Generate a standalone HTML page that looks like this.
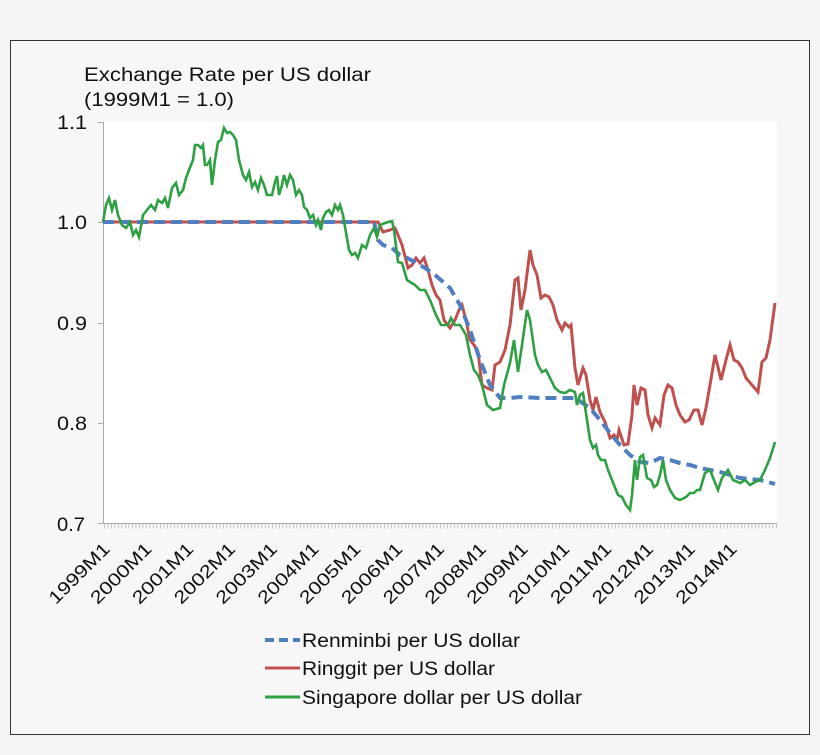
<!DOCTYPE html>
<html><head><meta charset="utf-8"><style>
body{margin:0;background:#f4f4f4;width:820px;height:750px;overflow:hidden}
</style></head><body>
<svg width="820" height="750" xmlns="http://www.w3.org/2000/svg" font-family="Liberation Sans, Arial, sans-serif">
<rect x="0" y="0" width="820" height="750" fill="#f4f4f4"/>
<rect x="10.5" y="40.5" width="799" height="694" fill="#f7f7f7" stroke="#333" stroke-width="1"/>
<rect x="104" y="122" width="673" height="401" fill="#fff"/>
<text x="84" y="81" font-size="19" fill="#111" textLength="287" lengthAdjust="spacingAndGlyphs">Exchange Rate per US dollar</text>
<text x="84" y="106" font-size="19" fill="#111" textLength="150" lengthAdjust="spacingAndGlyphs">(1999M1 = 1.0)</text>
<g font-size="19" fill="#111">
<text x="57" y="129" textLength="30" lengthAdjust="spacingAndGlyphs">1.1</text>
<text x="57" y="229" textLength="30" lengthAdjust="spacingAndGlyphs">1.0</text>
<text x="57" y="330" textLength="30" lengthAdjust="spacingAndGlyphs">0.9</text>
<text x="57" y="430" textLength="30" lengthAdjust="spacingAndGlyphs">0.8</text>
<text x="57" y="531" textLength="28" lengthAdjust="spacingAndGlyphs">0.7</text>
</g>
<line x1="103.5" y1="122" x2="103.5" y2="523" stroke="#aaa"/>
<g stroke="#aaa"><line x1="98" y1="122.5" x2="104" y2="122.5"/><line x1="98" y1="222.5" x2="104" y2="222.5"/><line x1="98" y1="323.5" x2="104" y2="323.5"/><line x1="98" y1="423.5" x2="104" y2="423.5"/><line x1="98" y1="523.5" x2="777" y2="523.5"/></g>
<line x1="104" y1="526" x2="777" y2="526" stroke="#bbb" stroke-width="5" stroke-dasharray="0.8,2.7"/>
<g font-size="18" fill="#111" text-anchor="end">
<text transform="translate(111,550) rotate(-45)" textLength="78" lengthAdjust="spacingAndGlyphs">1999M1</text>
<text transform="translate(152.8,550) rotate(-45)" textLength="78" lengthAdjust="spacingAndGlyphs">2000M1</text>
<text transform="translate(194.6,550) rotate(-45)" textLength="78" lengthAdjust="spacingAndGlyphs">2001M1</text>
<text transform="translate(236.4,550) rotate(-45)" textLength="78" lengthAdjust="spacingAndGlyphs">2002M1</text>
<text transform="translate(278.2,550) rotate(-45)" textLength="78" lengthAdjust="spacingAndGlyphs">2003M1</text>
<text transform="translate(320,550) rotate(-45)" textLength="78" lengthAdjust="spacingAndGlyphs">2004M1</text>
<text transform="translate(361.8,550) rotate(-45)" textLength="78" lengthAdjust="spacingAndGlyphs">2005M1</text>
<text transform="translate(403.6,550) rotate(-45)" textLength="78" lengthAdjust="spacingAndGlyphs">2006M1</text>
<text transform="translate(445.4,550) rotate(-45)" textLength="78" lengthAdjust="spacingAndGlyphs">2007M1</text>
<text transform="translate(487.2,550) rotate(-45)" textLength="78" lengthAdjust="spacingAndGlyphs">2008M1</text>
<text transform="translate(529,550) rotate(-45)" textLength="78" lengthAdjust="spacingAndGlyphs">2009M1</text>
<text transform="translate(570.8,550) rotate(-45)" textLength="78" lengthAdjust="spacingAndGlyphs">2010M1</text>
<text transform="translate(612.6,550) rotate(-45)" textLength="78" lengthAdjust="spacingAndGlyphs">2011M1</text>
<text transform="translate(654.4,550) rotate(-45)" textLength="78" lengthAdjust="spacingAndGlyphs">2012M1</text>
<text transform="translate(696.2,550) rotate(-45)" textLength="78" lengthAdjust="spacingAndGlyphs">2013M1</text>
<text transform="translate(738,550) rotate(-45)" textLength="78" lengthAdjust="spacingAndGlyphs">2014M1</text>
</g>
<polyline fill="none" stroke="#c0504d" stroke-width="3" points="103,222 374,222 378,222 383,232 390,230 395,228 398,235 402,245 408,268 412,265 416,258 420,263 424,258 428,270 432,285 436,295 440,300 444,320 450,328 455,320 459,310 462,305 466,320 470,340 474,345 478,352 482,385 487,388 492,390 495,365 500,362 505,350 510,325 515,280 518,278 521,310 525,290 530,250 533,265 537,275 541,298 545,295 549,297 553,305 557,320 562,330 565,323 569,327 571,325 575,368 578,385 583,368 586,375 590,400 593,410 596,397 600,412 605,422 610,438 614,435 617,440 619,430 624,445 628,444 632,415 634,385 637,405 641,388 645,390 648,415 652,428 655,418 660,425 664,395 668,385 672,388 676,405 680,415 685,422 689,420 694,410 698,410 702,425 706,408 710,385 715,355 718,367 721,380 726,360 730,345 734,360 738,362 742,368 746,378 752,385 758,392 762,362 766,358 770,340 775,303"/>
<polyline fill="none" stroke="#4f7fc0" stroke-width="4" stroke-dasharray="11,6" points="103,222 374,222 378,240 383,245 392,248 400,255 407,258 415,262 425,268 435,275 450,288 460,305 470,330 480,360 490,385 500,398 510,398 520,397 540,398 560,398 575,398 590,408 600,420 610,433 620,445 630,455 640,462 650,463 660,458 670,460 680,463 690,465 700,468 720,472 740,478 760,480 775,484"/>
<polyline fill="none" stroke="#2ea043" stroke-width="2.6" points="103,222 106,205 109,198 112,210 115,200 118,215 122,225 126,228 130,222 133,235 136,230 139,237 143,215 147,210 151,205 155,210 158,200 162,203 165,198 168,208 172,188 176,183 179,195 183,190 186,178 189,170 193,160 195,145 198,145 201,148 203,145 205,165 207,165 210,160 212,185 215,160 218,142 221,140 224,128 227,133 230,132 233,135 236,140 239,160 243,175 246,180 249,172 252,187 255,182 258,190 261,178 264,185 267,195 272,195 275,182 277,176 279,195 282,185 284,175 287,185 290,175 293,180 296,195 299,190 302,195 304,207 307,210 310,218 313,215 316,225 318,220 321,230 323,218 326,212 329,210 332,215 335,205 338,210 340,205 343,215 349,250 352,255 355,253 358,258 362,245 366,248 370,235 374,228 377,237 380,225 385,223 392,221 394,230 398,262 402,263 407,280 410,282 415,285 420,290 425,290 430,300 436,315 441,325 448,325 451,318 455,325 460,325 463,330 466,335 470,355 474,370 478,375 482,385 487,405 493,410 500,408 504,385 510,363 514,340 518,372 522,345 527,310 530,320 535,355 538,365 542,372 546,370 550,378 555,388 560,392 565,393 570,390 575,392 577,405 580,395 583,393 587,420 590,440 593,448 596,445 598,455 601,460 605,460 608,470 612,480 618,495 622,497 626,505 630,510 632,495 635,460 637,480 640,457 643,455 647,478 651,480 654,487 657,485 660,475 663,460 666,480 670,490 675,498 680,500 686,497 690,493 694,493 697,490 700,490 705,473 710,470 714,480 718,490 722,478 728,470 733,480 740,483 745,480 750,485 755,482 760,480 765,470 770,458 775,442"/>
<line x1="265" y1="640" x2="300" y2="640" stroke="#4f7fc0" stroke-width="4" stroke-dasharray="9,5"/>
<line x1="265" y1="668" x2="300" y2="668" stroke="#c0504d" stroke-width="3"/>
<line x1="265" y1="697" x2="300" y2="697" stroke="#2ea043" stroke-width="3"/>
<g font-size="19" fill="#111">
<text x="302" y="647" textLength="218" lengthAdjust="spacingAndGlyphs">Renminbi per US dollar</text>
<text x="302" y="675" textLength="193" lengthAdjust="spacingAndGlyphs">Ringgit per US dollar</text>
<text x="302" y="704" textLength="280" lengthAdjust="spacingAndGlyphs">Singapore dollar per US dollar</text>
</g>
</svg>
</body></html>
